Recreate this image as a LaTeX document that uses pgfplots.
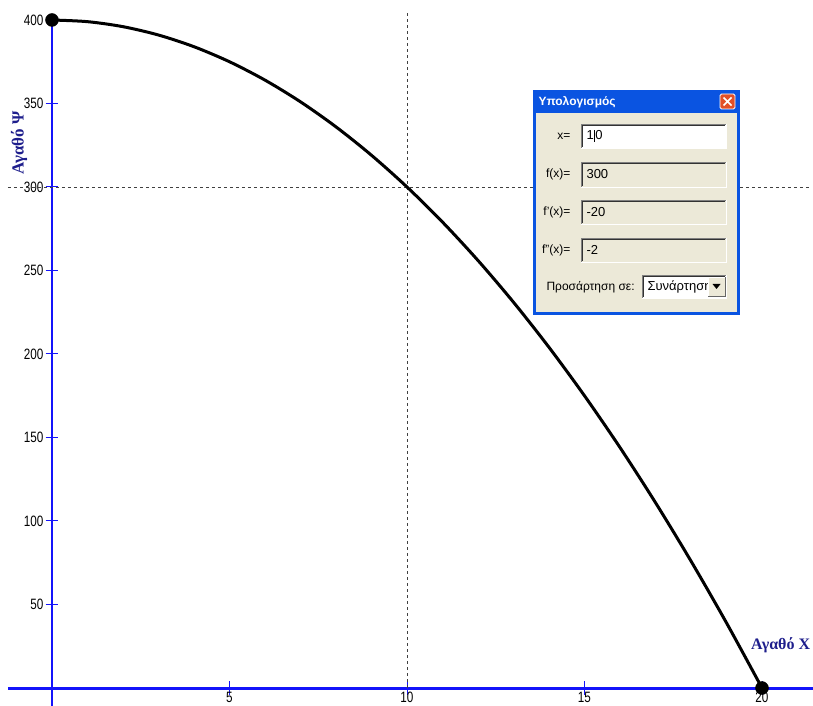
\documentclass[border=0pt]{standalone}
\usepackage{fontspec}
\setmainfont{Liberation Sans}
\newfontfamily\labserif{Liberation Serif}
\newfontfamily\tickfont[FakeStretch=0.78]{Liberation Sans}
\usepackage{pgfplots}
\pgfplotsset{compat=1.18}
\definecolor{axblue}{RGB}{20,20,250}
\definecolor{labnavy}{RGB}{30,30,140}
\definecolor{winblue}{RGB}{10,84,225}
\definecolor{winbody}{RGB}{236,233,216}
\definecolor{xpred}{RGB}{226,80,40}

% 1 px of the reference = 1pt; x: 35.5 px per unit, y: 1.67 px per unit
\begin{document}
\begin{tikzpicture}
\begin{axis}[
  name=ax,
  scale only axis,
  width=813pt, height=706pt,
  xmin=-1.4648, xmax=21.437,
  ymin=-10.778, ymax=411.98,
  enlargelimits=false,
  axis lines=middle,
  axis line style={draw=none},
  xtick={5,10,15,20},
  ytick={50,100,...,400},
  tick align=center,
  major tick length=13pt,
  tick style={axblue, line width=1pt},
  ticklabel style={font=\tickfont\fontsize{15}{16}\selectfont},
  xticklabel style={inner sep=0pt, yshift=2.5pt},
  yticklabel style={inner sep=1pt, xshift=-1pt},
  /pgf/number format/assume math mode=true,
  clip=false,
]
% axes
\draw[axblue, line width=3pt] (axis cs:-1.239,0) -- (axis cs:21.437,0);
\draw[axblue, line width=2.5pt] (axis cs:0,400) -- (axis cs:0,-10.778);

% guide lines at x = 10, y = 300
\addplot[black!75, line width=0.8pt, dash pattern=on 3pt off 3pt]
  coordinates {(10,0) (10,405)};
\addplot[black!75, line width=0.8pt, dash pattern=on 3pt off 3pt]
  coordinates {(-1.24,300) (21.4,300)};

% frontier
\addplot[black, line width=3pt, smooth] coordinates {
  (0,400) (1,399) (2,396) (3,391) (4,384) (5,375) (6,364) (7,351)
  (8,336) (9,319) (10,300) (11,279) (12,256) (13,231) (14,204)
  (15,175) (16,144) (17,111) (18,76) (19,39) (20,0)
};
\addplot[only marks, mark=*, mark size=6.5pt, black]
  coordinates {(0,400) (20,0)};
\end{axis}

\begin{scope}[shift={(ax.north west)}, x=1pt, y=-1pt]
  % axis titles
  \node[rotate=90, text=labnavy, font=\labserif\bfseries\fontsize{17}{19}\selectfont]
    at (19,143) {Αγαθό Ψ};
  \node[anchor=west, text=labnavy, font=\labserif\bfseries\fontsize{16}{18}\selectfont,
    inner sep=0pt] at (751,645) {Αγαθό Χ};

  % calculation window
  \fill[winblue] (533,90) rectangle (740,315);
  \fill[winbody] (536,113) rectangle (737,312);
  \node[anchor=west, text=white, font=\bfseries\fontsize{12}{14}\selectfont]
    at (535,102) {Υπολογισμός};
  \draw[white, fill=xpred, rounded corners=1.5pt, line width=0.8pt]
    (720,94) rectangle (735,109);
  \draw[white, line width=1.6pt] (723.5,97.5) -- (731.5,105.5)
    (731.5,97.5) -- (723.5,105.5);

  \foreach \ya/\yb/\fc/\lab/\val in {
      124/148/white/{x=}/{},
      162/187/winbody/{f(x)=}/{300},
      200/224/winbody/{f'(x)=}/{-20},
      238/262/winbody/{f''(x)=}/{-2}} {
    \fill[\fc] (581,\ya) rectangle (726,\yb);
    \draw[black!50] (581,\yb) -- (581,\ya) -- (726,\ya);
    \draw[black!80] (582,\yb-1) -- (582,\ya+1) -- (725,\ya+1);
    \draw[white] (726,\ya) -- (726,\yb) -- (581,\yb);
    \node[anchor=east, font=\fontsize{12}{14}\selectfont]
      at (574,{(\ya+\yb)/2}) {\lab};
    \node[anchor=west, font=\fontsize{13}{15}\selectfont]
      at (583,{(\ya+\yb)/2}) {\val};
  }
  \node[anchor=west, font=\fontsize{13}{15}\selectfont] at (583,136)
    {1\kern0.6pt\vrule width 0.7pt height 10pt depth 2pt\kern0.2pt 0};

  \node[anchor=west, font=\fontsize{12}{14}\selectfont] at (543,287)
    {Προσάρτηση σε:};
  \fill[white] (642,275) rectangle (726,298);
  \draw[black!50] (642,298) -- (642,275) -- (726,275);
  \draw[black!80] (643,297) -- (643,276) -- (725,276);
  \draw[white] (726,275) -- (726,298) -- (642,298);
  \begin{scope}
    \clip (644,277) rectangle (708,297);
    \node[anchor=west, font=\fontsize{13}{15}\selectfont] at (644,287)
      {Συνάρτηση};
  \end{scope}
  \fill[winbody] (708,277) rectangle (725,296);
  \draw[white] (708,296) -- (708,277) -- (725,277);
  \draw[black!60] (725,277) -- (725,296) -- (708,296);
  \fill[black] (712.5,284) -- (720.5,284) -- (716.5,289) -- cycle;
\end{scope}

\pgfresetboundingbox
\path[use as bounding box] (ax.south west) rectangle (ax.north east);
\end{tikzpicture}
\end{document}
